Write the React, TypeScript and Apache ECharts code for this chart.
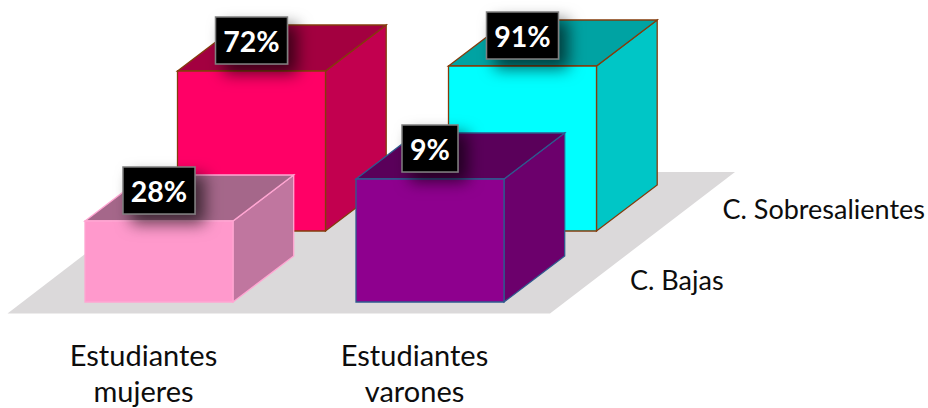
import React, { useEffect, useRef } from "react";
import * as echarts from "echarts";

const categories = ["Estudiantes\nmujeres", "Estudiantes\nvarones"];
const depthLabels = ["C. Bajas", "C. Sobresalientes"];
// drawn heights as they appear in the picture (the source chart is not to scale with its labels)
const bajasHeights = [81, 123];
const sobresalientesHeights = [160, 165];
const bajasPercent = [28, 9];
const sobresalientesPercent = [72, 91];

const FONT = "Lato, 'Open Sans', sans-serif";
const ROW_DX = 92.5;
const ROW_DY = -71;
const CUBE_DX = 60.7;
const CUBE_DY = -46;
const COL_DX = 15.5;
const BAR_W = 148;

const palette: Record<string, { front: string; top: string; side: string; edge: string }> = {
  "0-0": { front: "#ff99cc", top: "#a5678a", side: "#c0769f", edge: "#ffa6d2" },
  "1-0": { front: "#8e008e", top: "#5a005a", side: "#6c006c", edge: "#2f5a8f" },
  "0-1": { front: "#ff0066", top: "#a30040", side: "#c2004f", edge: "#843c0c" },
  "1-1": { front: "#00ffff", top: "#00a3a3", side: "#00c6c6", edge: "#843c0c" },
};

const barData = [
  [0, 1, sobresalientesHeights[0], sobresalientesPercent[0]],
  [1, 1, sobresalientesHeights[1], sobresalientesPercent[1]],
  [0, 0, bajasHeights[0], bajasPercent[0]],
  [1, 0, bajasHeights[1], bajasPercent[1]],
];

function frontBox(api: any) {
  const col = api.value(0);
  const row = api.value(1);
  const base = api.coord([col, 0]);
  const top = api.coord([col, api.value(2)]);
  const cx = base[0] + COL_DX + row * ROW_DX;
  const by = base[1] + row * ROW_DY;
  const ty = top[1] + row * ROW_DY;
  return { col, row, cx, by, ty };
}

function renderBar(_: any, api: any) {
  const { col, row, cx, by, ty } = frontBox(api);
  const l = cx - BAR_W / 2;
  const r = cx + BAR_W / 2;
  const c = palette[`${col}-${row}`];
  const poly = (points: number[][], fill: string) => ({
    type: "polygon",
    shape: { points },
    style: { fill, stroke: c.edge, lineWidth: 1.3 },
    silent: true,
  });
  return {
    type: "group",
    children: [
      poly(
        [
          [r, ty],
          [r + CUBE_DX, ty + CUBE_DY],
          [r + CUBE_DX, by + CUBE_DY],
          [r, by],
        ],
        c.side
      ),
      poly(
        [
          [l, ty],
          [l + CUBE_DX, ty + CUBE_DY],
          [r + CUBE_DX, ty + CUBE_DY],
          [r, ty],
        ],
        c.top
      ),
      poly(
        [
          [l, ty],
          [r, ty],
          [r, by],
          [l, by],
        ],
        c.front
      ),
    ],
  };
}

function renderTag(_: any, api: any) {
  const { cx, ty } = frontBox(api);
  const pct = api.value(3);
  const w = pct < 10 ? 56 : 72;
  const h = 47;
  const cy = ty - 30.5;
  return {
    type: "group",
    children: [
      {
        type: "rect",
        shape: { x: cx - w / 2, y: cy - h / 2, width: w, height: h },
        style: {
          fill: "#000000",
          stroke: "#7f7f7f",
          lineWidth: 1.5,
          shadowBlur: 16,
          shadowOffsetX: 9,
          shadowOffsetY: 9,
          shadowColor: "rgba(0,0,0,0.62)",
        },
        silent: true,
      },
      {
        type: "text",
        x: cx,
        y: cy,
        style: {
          text: `${pct}%`,
          fill: "#ffffff",
          font: `bold 28.5px ${FONT}`,
          align: "center",
          verticalAlign: "middle",
        },
        silent: true,
      },
    ],
  };
}

function renderDepth(_: any, api: any) {
  const row = api.value(1);
  const base = api.coord([api.value(0), 0]);
  return {
    type: "text",
    x: base[0] + COL_DX + row * ROW_DX + 200,
    y: base[1] + row * ROW_DY - 23,
    style: {
      text: depthLabels[row],
      fill: "#0d0d0d",
      font: `27px ${FONT}`,
      align: "left",
      verticalAlign: "middle",
    },
    silent: true,
  };
}

export default function App() {
  const ref = useRef<HTMLDivElement>(null);
  useEffect(() => {
    const chart = echarts.init(ref.current!, undefined, { renderer: "svg" });
    chart.setOption({
      animation: false,
      backgroundColor: "#ffffff",
      grid: { left: 8, top: 2, width: 542, height: 300, outerBoundsMode: "none", containLabel: false },
      xAxis: {
        type: "category",
        data: categories,
        axisLine: { show: false },
        axisTick: { show: false },
        axisLabel: {
          color: "#0d0d0d",
          fontFamily: "Lato, 'Open Sans', sans-serif",
          fontSize: 29,
          lineHeight: 36,
          margin: 34,
          interval: 0,
        },
      },
      yAxis: { type: "value", min: 0, max: 300, show: false },
      graphic: [
        {
          type: "polygon",
          z: 0,
          silent: true,
          shape: {
            points: [
              [7.5, 313.5],
              [550, 313.5],
              [735, 172],
              [192, 172],
            ],
          },
          style: { fill: "#dbd9da" },
        },
      ],
      series: [
        {
          type: "custom",
          z: 2,
          silent: true,
          clip: false,
          renderItem: renderBar,
          encode: { x: 0, y: 2 },
          data: barData,
        },
        {
          type: "custom",
          z: 3,
          silent: true,
          clip: false,
          renderItem: renderDepth,
          encode: { x: 0 },
          data: [
            [1, 0],
            [1, 1],
          ],
        },
        {
          type: "custom",
          z: 4,
          silent: true,
          clip: false,
          renderItem: renderTag,
          encode: { x: 0, y: 2 },
          data: barData,
        },
      ],
    });
    return () => chart.dispose();
  }, []);
  return (
    <div
      ref={ref}
      style={{ position: "absolute", left: 0, top: 0, width: 928, height: 408 }}
    />
  );
}
